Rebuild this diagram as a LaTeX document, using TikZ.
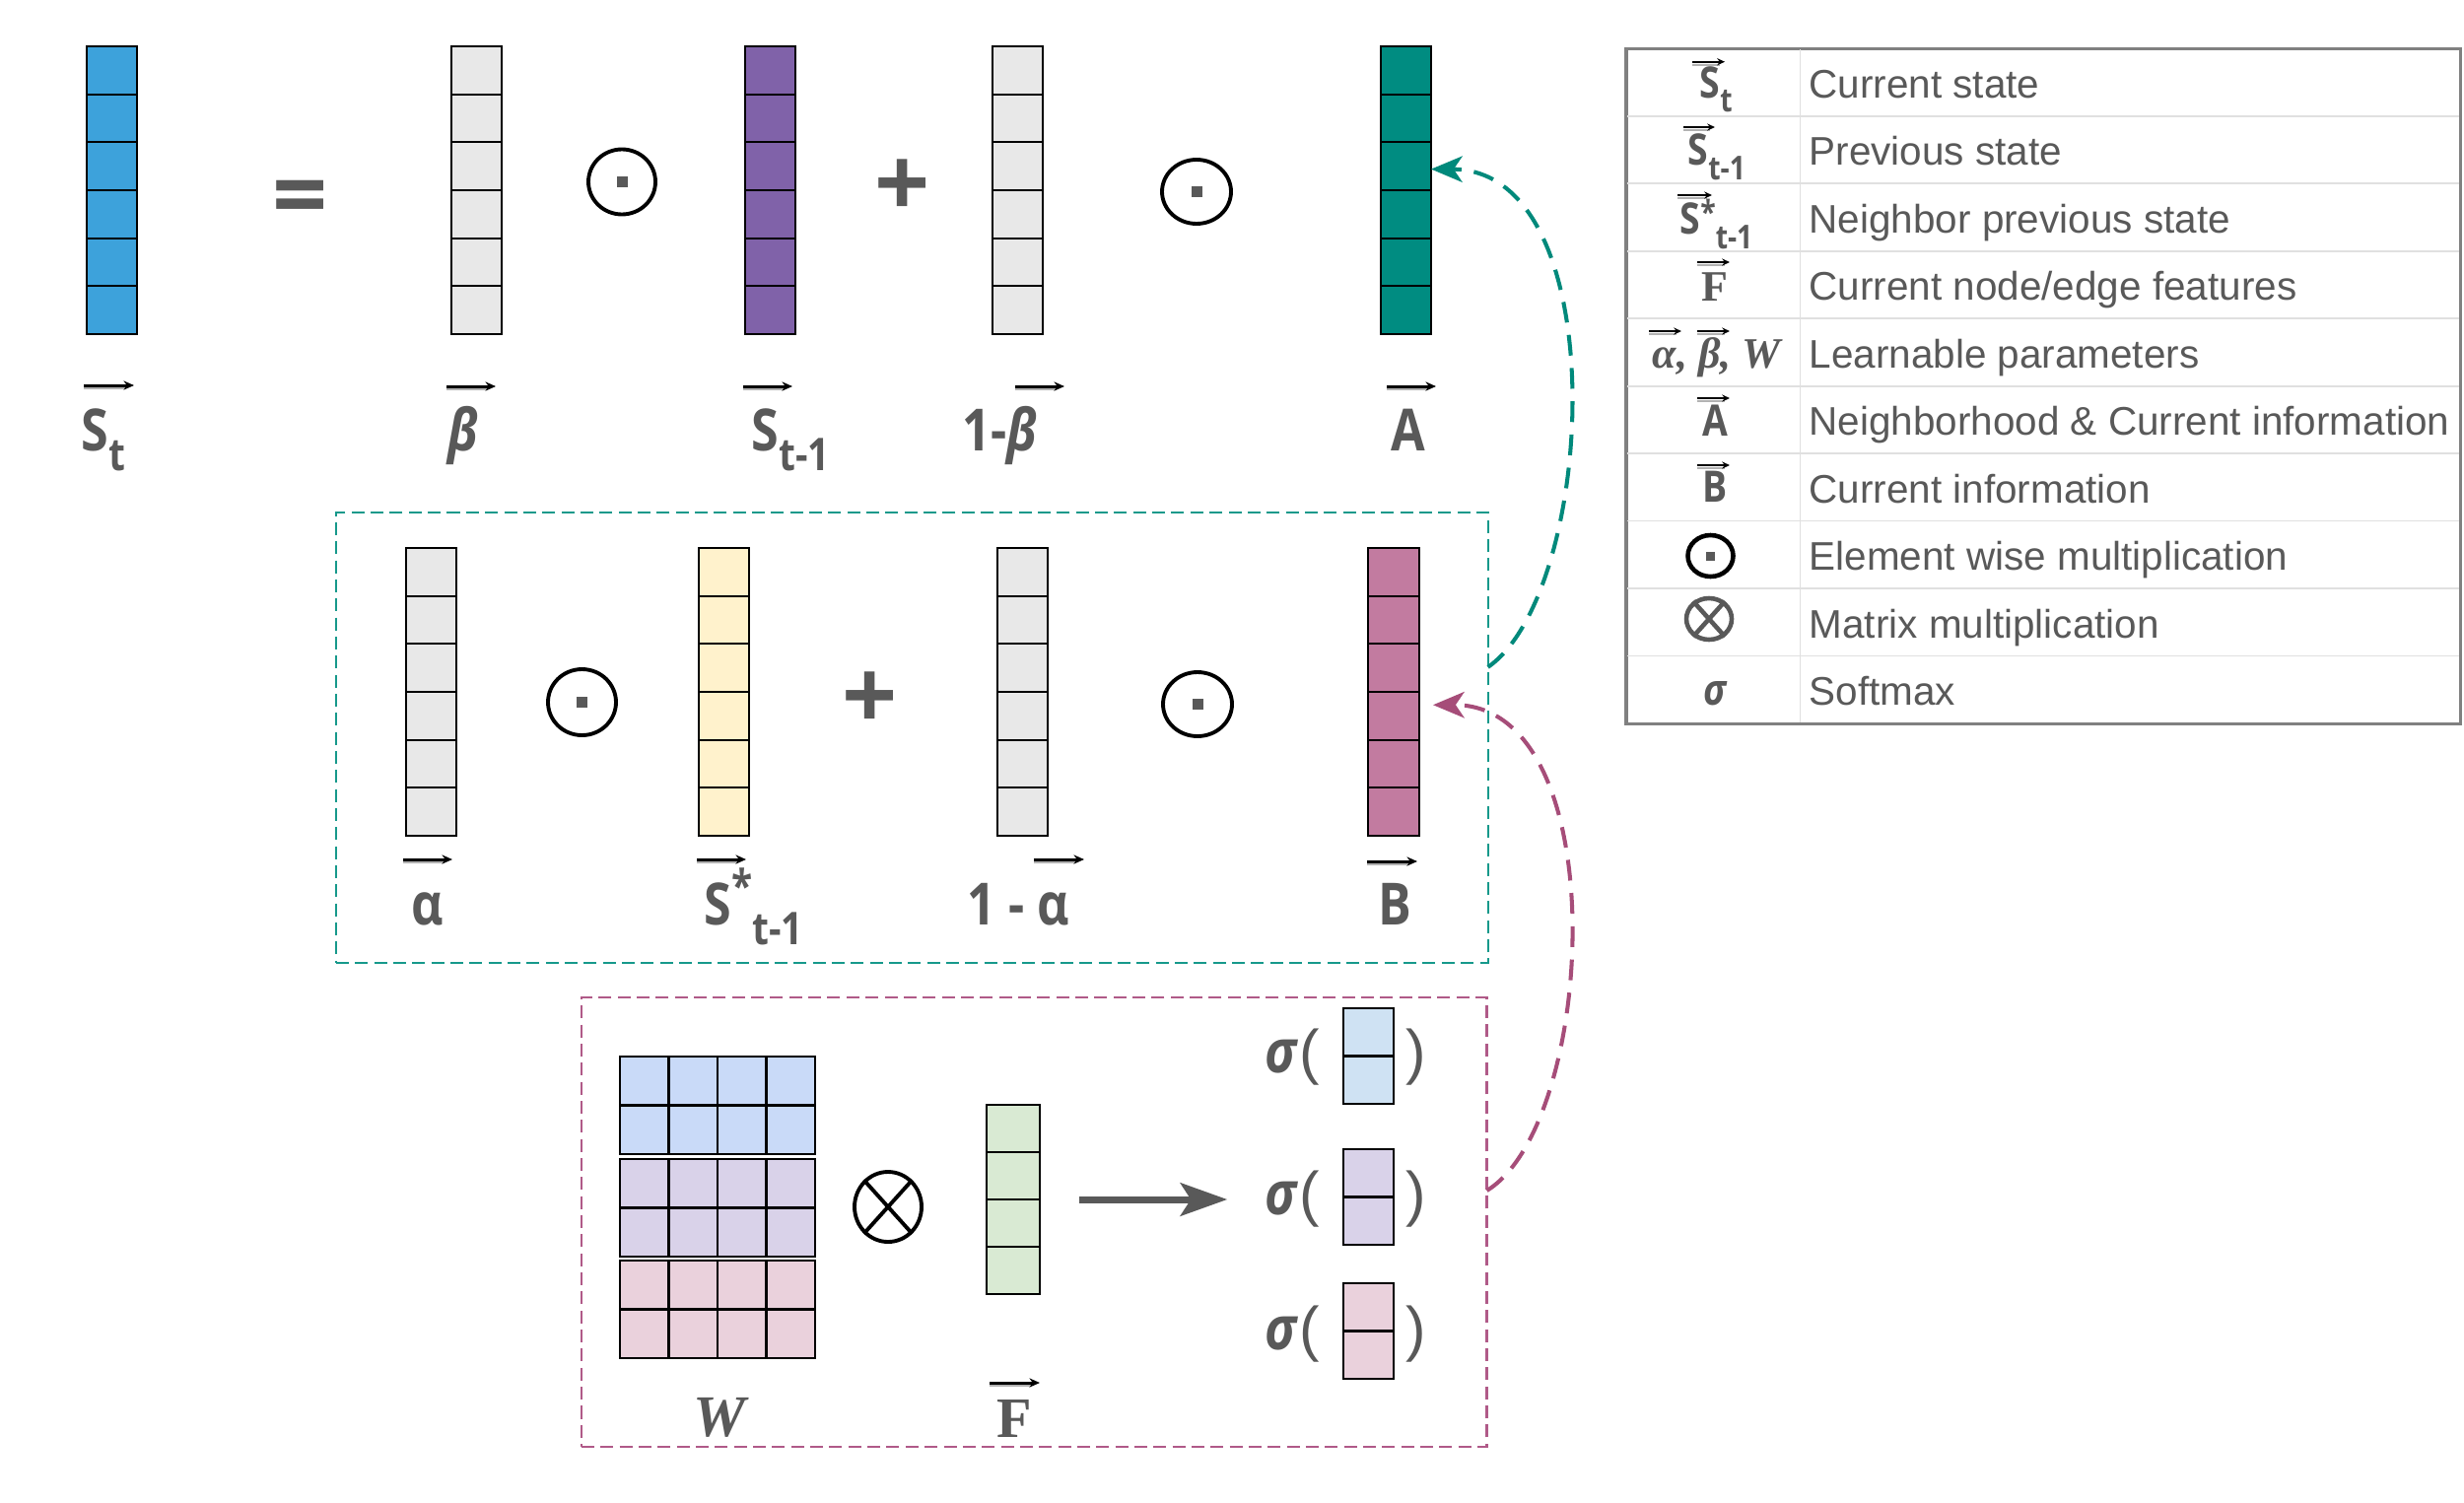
\documentclass[tikz,border=0pt]{standalone}
\usepackage{fontspec}
\setmainfont{Liberation Sans}
\newfontfamily\labf[FakeStretch=0.85]{Open Sans}
\newfontfamily\opf{Open Sans}
\newfontfamily\serf{Liberation Serif}
\usetikzlibrary{arrows.meta,shapes.geometric}

\definecolor{txt}{HTML}{595959}
\definecolor{cSt}{HTML}{3DA2DB}
\definecolor{cPrev}{HTML}{8062A9}
\definecolor{cA}{HTML}{008C81}
\definecolor{cGray}{HTML}{E8E8E8}
\definecolor{cYel}{HTML}{FFF2CC}
\definecolor{cB}{HTML}{C27BA0}
\definecolor{cWb}{HTML}{C9DAF8}
\definecolor{cWp}{HTML}{D9D2E9}
\definecolor{cWr}{HTML}{EAD1DC}
\definecolor{cF}{HTML}{D9EAD3}
\definecolor{cSb}{HTML}{CFE2F3}
\definecolor{tealbox}{HTML}{17998B}
\definecolor{tealcur}{HTML}{00897B}
\definecolor{magbox}{HTML}{B05A88}
\definecolor{magcur}{HTML}{A64D79}

% vector column: name, x, ytop, width, cell height, cells, colour
\newcommand{\vcol}[7]{%
  \node[cellbox, fill=#7, minimum width=#4*0.01cm, minimum height=#5*#6*0.01cm, anchor=north west] (#1) at (#2,#3) {};
  \foreach \k in {2,...,#6}{\draw[cellline] (#2,{#3+(\k-1)*#5}) -- ({#2+#4},{#3+(\k-1)*#5});}
}
% matrix block: name, x, y, colour
\newcommand{\mblock}[4]{%
  \node[cellbox, fill=#4, minimum width=1.98cm, minimum height=0.99cm, anchor=north west] (#1) at (#2,#3) {};
  \foreach \c in {1,2,3}{\draw[cellline] ({#2+\c*49.5},#3) -- ({#2+\c*49.5},{#3+99});}
  \draw[cellline] (#2,{#3+49.5}) -- ({#2+198},{#3+49.5});
}
% element-wise product: name, x, y, rx, ry, line width, square size
\newcommand{\odotop}[7]{%
  \node[draw=black, ellipse, line width=#6, inner sep=0pt, minimum width=2*#4*0.01cm, minimum height=2*#5*0.01cm] (#1) at (#2,#3) {};
  \node[fill=txt, inner sep=0pt, minimum width=#7*0.01cm, minimum height=#7*0.01cm] (#1c) at (#1) {};
}
% matrix product: name, x, y, rx, ry, line width, colour
\newcommand{\otimesop}[7]{%
  \node[draw=#7, ellipse, line width=#6, inner sep=0pt, minimum width=2*#4*0.01cm, minimum height=2*#5*0.01cm] (#1) at (#2,#3) {};
  \draw[#7, line width=#6] (#1.48) -- (#1.228) (#1.132) -- (#1.312);
}
% vector arrows
\newcommand{\varr}[3]{%
  \draw[gray!60, line width=1.3pt] (#1,{#3+2}) -- ({#2-8},{#3+2});
  \draw[black, line width=0.85pt, -{Stealth[length=3pt,width=2.6pt]}] (#1,#3) -- (#2,#3);
}
\newcommand{\varrs}[3]{%
  \draw[gray!60, line width=0.6pt] (#1,{#3+3}) -- ({#2-5},{#3+3});
  \draw[black, line width=0.6pt, -{Stealth[length=2.2pt,width=2pt]}] (#1,#3) -- (#2,#3);
}
\newcommand{\msub}[1]{\raisebox{-5.7pt}{\fontsize{13}{13}\selectfont #1}}
\newcommand{\lsub}[2]{\raisebox{-#1}{\fontsize{9.5}{10}\selectfont #2}}

\begin{document}
\begin{tikzpicture}[x=0.01cm, y=-0.01cm,
  cellbox/.style={draw=black, line width=0.6pt, inner sep=0pt, outer sep=0pt},
  cellline/.style={draw=black, line width=0.6pt},
  lab/.style={font=\labf\bfseries\fontsize{16.8}{20}\selectfont, text=txt, inner sep=0pt},
  serlab/.style={font=\serf\bfseries\fontsize{16.5}{20}\selectfont, text=txt, inner sep=0pt},
  opfont/.style={font=\opf\bfseries\fontsize{28}{30}\selectfont, text=txt, inner sep=0pt},
  sigfont/.style={font=\labf\bfseries\itshape\fontsize{17.4}{20}\selectfont, text=txt, inner sep=0pt},
  parfont/.style={font=\fontsize{17.5}{20}\selectfont, text=txt, inner sep=0pt},
  legsym/.style={font=\labf\bfseries\fontsize{12.5}{14}\selectfont, text=txt, inner sep=0pt},
  legtext/.style={font=\fontsize{11.5}{14}\selectfont, text=txt, inner sep=0pt, anchor=base west},
  legline/.style={draw=black!12, line width=0.5pt},
  dashbox/.style={line width=0.6pt, dash pattern=on 3.7pt off 1.8pt, inner sep=0pt, outer sep=0pt, anchor=north west},
  curve/.style={line width=1.15pt, dash pattern=on 6pt off 3.6pt, -{Stealth[length=9pt,width=7.5pt,inset=2.5pt]}},
  bigarr/.style={draw=txt, line width=2pt, -{Stealth[length=13.5pt,width=9.5pt,inset=3pt]}}
]
\fill[white] (0,0) rectangle (2500,1524);
\useasboundingbox (0,0) rectangle (2500,1524);

% ---------- top equation ----------
\vcol{St}{88}{47}{51}{48.67}{6}{cSt}
\vcol{beta}{458}{47}{51}{48.67}{6}{cGray}
\vcol{Sprev}{756}{47}{51}{48.67}{6}{cPrev}
\vcol{omb}{1007}{47}{51}{48.67}{6}{cGray}
\vcol{A}{1401}{47}{51}{48.67}{6}{cA}

\node[opfont, anchor=base] (eq) at (305,232) {=};
\odotop{o1}{631}{184.5}{34}{33}{1.1pt}{11}
\node[opfont, anchor=base] (plus1) at (916,220) {+};
\odotop{o2}{1214}{194.5}{35}{32.5}{1.1pt}{11}

\varr{85}{136}{391}
\varr{453}{503}{392}
\varr{754}{804}{392}
\varr{1030}{1080}{392}
\varr{1407}{1457}{392}
\node[lab, anchor=base west] (lSt) at (82,457) {S\msub{t}};
\node[lab, anchor=base] (lbeta) at (470,457) {\itshape β};
\node[lab, anchor=base west] (lSprev) at (762,457) {S\msub{t-1}};
\node[lab, anchor=base west] (lomb) at (976,457) {1-{\itshape β}};
\node[lab, anchor=base] (lA) at (1429,457) {A};

% ---------- middle equation ----------
\node[dashbox, draw=tealbox, minimum width=11.68cm, minimum height=4.57cm] (tbox) at (341,520) {};
\vcol{alpha}{412}{556}{51}{48.67}{6}{cGray}
\vcol{Sstar}{709}{556}{51}{48.67}{6}{cYel}
\vcol{oma}{1012}{556}{51}{48.67}{6}{cGray}
\vcol{B}{1388}{556}{52}{48.67}{6}{cB}
\odotop{o3}{590.5}{712.5}{34.5}{33.5}{1.1pt}{11}
\node[opfont, anchor=base] (plus2) at (883,740) {+};
\odotop{o4}{1215}{714.5}{35}{32.5}{1.1pt}{11}

\varr{409}{459}{872}
\varr{707}{757}{872}
\varr{1049}{1100}{872}
\varr{1387}{1438}{874}
\node[lab, anchor=base] (lalpha) at (434,938) {α};
\node[lab, anchor=base west] (lSstar) at (714,938) {S\raisebox{6.3pt}{\fontsize{13}{13}\selectfont *}\msub{t-1}};
\node[lab, anchor=base west] (loma) at (981,938) {1 - α};
\node[lab, anchor=base] (lB) at (1415,938) {B};

% ---------- bottom: W x F ----------
\node[dashbox, draw=magbox, minimum width=9.18cm, minimum height=4.56cm] (mbox) at (590,1012) {};
\mblock{Wb}{629}{1072}{cWb}
\mblock{Wp}{629}{1176}{cWp}
\mblock{Wr}{629}{1279}{cWr}
\otimesop{ox}{901}{1224.5}{34}{35.5}{1.1pt}{black}
\vcol{F}{1001}{1121}{54}{48}{4}{cF}
\node[serlab, font=\serf\bfseries\itshape\fontsize{17}{20}\selectfont, anchor=base] (lW) at (730,1457) {W};
\varr{1004}{1055}{1403}
\node[serlab, anchor=base] (lF) at (1029,1458) {F};

\vcol{s1}{1363}{1023}{51}{48.5}{2}{cSb}
\vcol{s2}{1363}{1166}{51}{48.5}{2}{cWp}
\vcol{s3}{1363}{1302}{51}{48.5}{2}{cWr}
\node[sigfont, anchor=base] (sig1) at (1300,1088) {σ};
\node[parfont, anchor=base] (po1) at (1329,1088) {(};
\node[parfont, anchor=base] (pc1) at (1437,1088) {)};
\node[sigfont, anchor=base] (sig2) at (1300,1232) {σ};
\node[parfont, anchor=base] (po2) at (1329,1232) {(};
\node[parfont, anchor=base] (pc2) at (1437,1232) {)};
\node[sigfont, anchor=base] (sig3) at (1300,1369) {σ};
\node[parfont, anchor=base] (po3) at (1329,1369) {(};
\node[parfont, anchor=base] (pc3) at (1437,1369) {)};

\draw[bigarr, shorten <=0.4cm, shorten >=0.38cm] (F.east) -- (F.east -| sig2.west);

% ---------- dashed connectors ----------
\draw[curve, draw=tealcur] (tbox.7) .. controls (1620,600) and (1640,172) .. (A.40);
\draw[curve, draw=magcur, shorten >=0.14cm] (mbox.4) .. controls (1620,1140) and (1640,715) .. (B.-27);

% ---------- legend ----------
\node[draw=black!50, line width=0.9pt, inner sep=0pt, outer sep=0pt, minimum width=8.46cm, minimum height=6.847cm, anchor=north west] (legend) at (1650,49.3) {};
\foreach \i in {1,...,9}{\draw[legline] (1651,{49.3+\i*68.47}) -- (2495,{49.3+\i*68.47});}
\draw[legline] (1826.5,50) -- (1826.5,733);

\varrs{1717}{1750}{62.7}
\varrs{1708}{1740}{129}
\varrs{1702}{1737}{198}
\varrs{1722}{1755}{266}
\varrs{1673}{1706}{336}
\varrs{1722}{1755}{336}
\varrs{1722}{1755}{404}
\varrs{1722}{1755}{472}
\node[legsym, anchor=base west] (k1) at (1724,100) {S\lsub{3.7pt}{t}};
\node[legsym, anchor=base west] (k2) at (1712,167) {S\lsub{4.3pt}{t-1}};
\node[legsym, anchor=base west] (k3) at (1704,237) {S\raisebox{2.8pt}{\fontsize{9.5}{10}\selectfont *}\lsub{4.3pt}{t-1}};
\node[font=\serf\bfseries\fontsize{12.5}{14}\selectfont, text=txt, inner sep=0pt, anchor=base] (k4) at (1740,305) {F};
\node[font=\serf\bfseries\itshape\fontsize{12.5}{14}\selectfont, text=txt, inner sep=0pt, anchor=base west] (k5) at (1676,373) {α, β, W};
\node[legsym, anchor=base] (k6) at (1740,442) {A};
\node[legsym, anchor=base] (k7) at (1740.5,509) {B};
\odotop{k8}{1735.5}{564}{23}{21}{1.3pt}{9}
\otimesop{k9}{1734}{628}{23}{21}{1.3pt}{txt}
\node[legsym, font=\labf\bfseries\itshape\fontsize{12.5}{14}\selectfont, anchor=base] (k10) at (1740,715) {σ};

\node[legtext] (t1) at (1835,99) {Current state};
\node[legtext] (t2) at (1835,167) {Previous state};
\node[legtext] (t3) at (1835,236) {Neighbor previous state};
\node[legtext] (t4) at (1835,304) {Current node/edge features};
\node[legtext] (t5) at (1835,373) {Learnable parameters};
\node[legtext] (t6) at (1835,441) {Neighborhood \& Current information};
\node[legtext] (t7) at (1835,510) {Current information};
\node[legtext] (t8) at (1835,578) {Element wise multiplication};
\node[legtext] (t9) at (1835,647) {Matrix multiplication};
\node[legtext] (t10) at (1835,715) {Softmax};
\end{tikzpicture}
\end{document}
